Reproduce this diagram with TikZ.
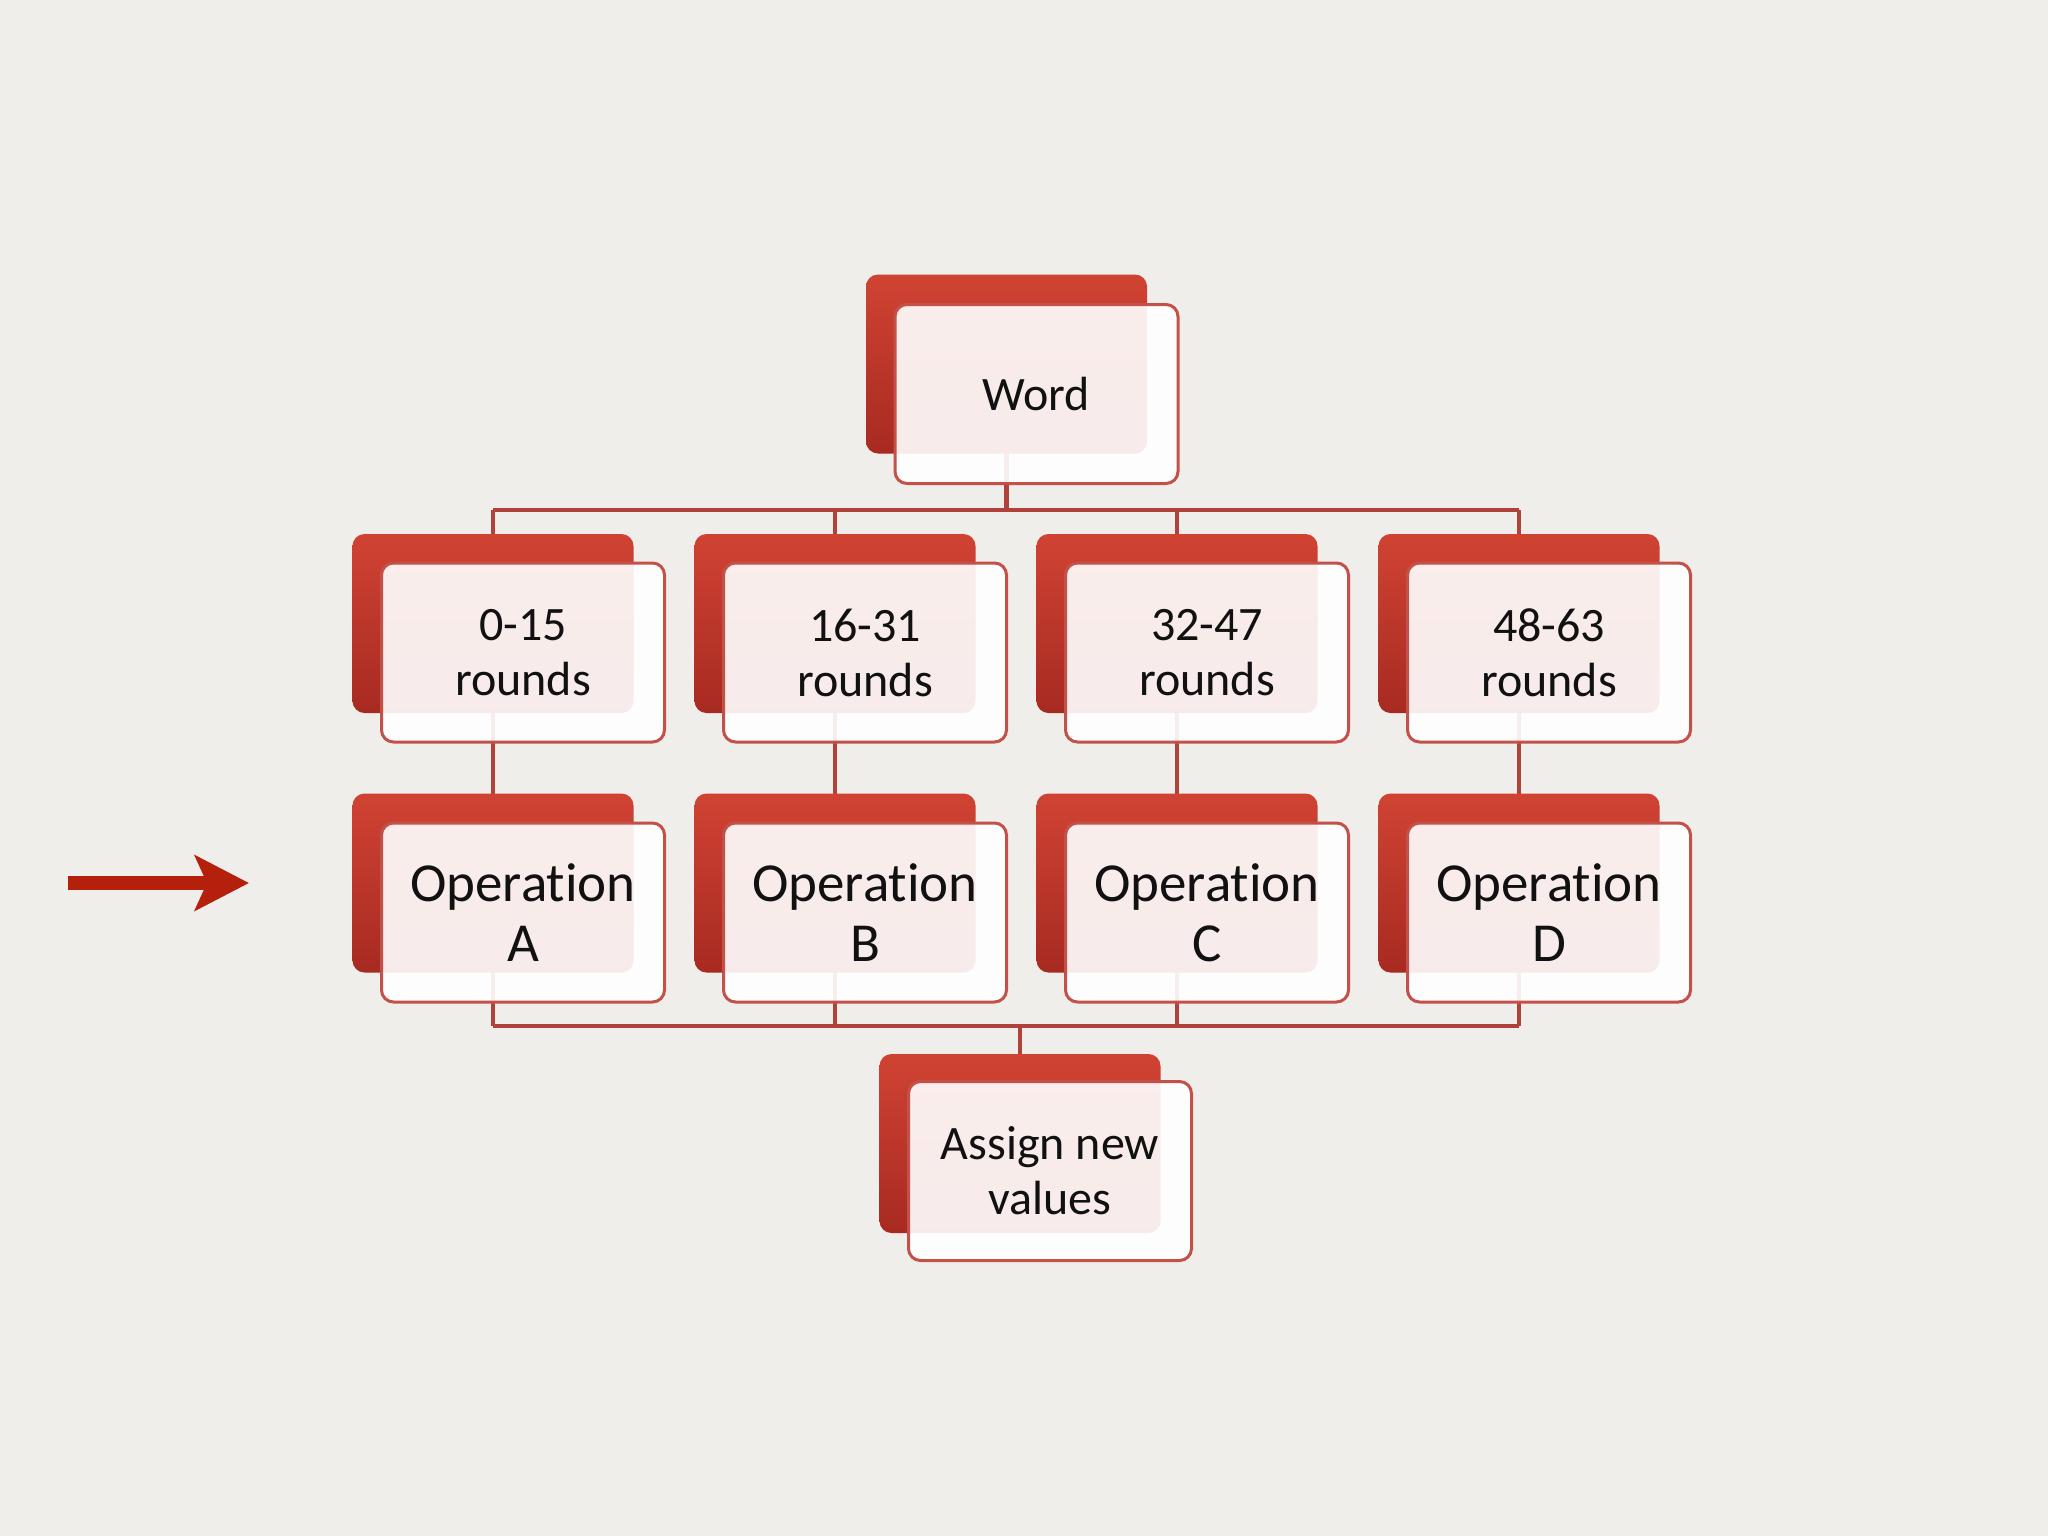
\documentclass[tikz,border=0pt]{standalone}
\usepackage{fontspec}
\setmainfont{Carlito}[Ligatures={NoCommon}]
\usetikzlibrary{arrows.meta}
\definecolor{bgc}{HTML}{EFEEEB}
\definecolor{redtop}{HTML}{D04333}
\definecolor{redbot}{HTML}{A72A21}
\definecolor{edgec}{HTML}{C4504A}
\definecolor{connc}{HTML}{B0423A}
\definecolor{arrowc}{HTML}{B5200D}
\definecolor{txtc}{HTML}{111111}
\pgfdeclarelayer{bgl}
\pgfdeclarelayer{lnl}
\pgfsetlayers{bgl,lnl,main}
\begin{document}
\begin{tikzpicture}[x=0.5pt,y=-0.5pt,
  backbox/.style={minimum width=140.5pt, minimum height=89.5pt, rounded corners=6pt,
    top color=redtop, bottom color=redbot, inner sep=0pt, outer sep=0pt},
  frontbox/.style={minimum width=141.5pt, minimum height=89.5pt, rounded corners=6pt,
    draw=edgec, line width=1.5pt, fill=white, fill opacity=0.91, text opacity=1,
    text=txtc, inner sep=0pt, align=center, font=\fontsize{24}{27.5}\selectfont},
  opfont/.style={font=\fontsize{27.5}{30}\selectfont},
  conn/.style={draw=connc, line width=2.2pt},
  arrowline/.style={draw=arrowc, line width=7pt,
    -{Stealth[length=27pt 0 0, width=27.5pt 0 0, inset=6pt 0, fill=arrowc]}}]

\begin{pgfonlayer}{bgl}
  \fill[bgc] (0,0) rectangle (2048,1536);
\end{pgfonlayer}
\useasboundingbox (0,0) rectangle (2048,1536);

% Word
\node[backbox] (wordb) at (1006.5,364) {};
\node[frontbox] (word) at (1036.5,394) {Word};

% rounds row
\node[backbox] (r1b) at (493,623.5) {};
\node[frontbox] (r1) at (523,652.5) {0-15\\rounds};
\node[backbox] (r2b) at (835,623.5) {};
\node[frontbox] (r2) at (865,652.5) {16-31\\rounds};
\node[backbox] (r3b) at (1177,623.5) {};
\node[frontbox] (r3) at (1207,652.5) {32-47\\rounds};
\node[backbox] (r4b) at (1519,623.5) {};
\node[frontbox] (r4) at (1549,652.5) {48-63\\rounds};

% operations row
\node[backbox] (o1b) at (493,883) {};
\node[frontbox, opfont] (o1) at (523,912.5) {Operation\\A};
\node[backbox] (o2b) at (835,883) {};
\node[frontbox, opfont] (o2) at (865,912.5) {Operation\\B};
\node[backbox] (o3b) at (1177,883) {};
\node[frontbox, opfont] (o3) at (1207,912.5) {Operation\\C};
\node[backbox] (o4b) at (1519,883) {};
\node[frontbox, opfont] (o4) at (1549,912.5) {Operation\\D};

% assign
\node[backbox] (ab) at (1020,1143.5) {};
\node[frontbox] (assign) at (1050,1171) {Assign new\\values};

% connectors
\coordinate (bus1) at (0,510);
\coordinate (bus2) at (0,1026);
\begin{pgfonlayer}{lnl}
  \draw[conn] (wordb.center) -- (wordb.center |- bus1);
  \draw[conn] (r1b.center |- bus1) -- (r4b.center |- bus1);
  \foreach \i in {1,2,3,4}{
    \draw[conn] (r\i b.center |- bus1) -- (o\i b.center |- bus2);
  }
  \draw[conn] (o1b.center |- bus2) -- (o4b.center |- bus2);
  \draw[conn] (ab.center |- bus2) -- (ab.center);
\end{pgfonlayer}

% arrow
\coordinate (arrS) at (68,883);
\coordinate (arrE) at (249,883);
\draw[arrowline] (arrS) -- (arrE);
\end{tikzpicture}
\end{document}
